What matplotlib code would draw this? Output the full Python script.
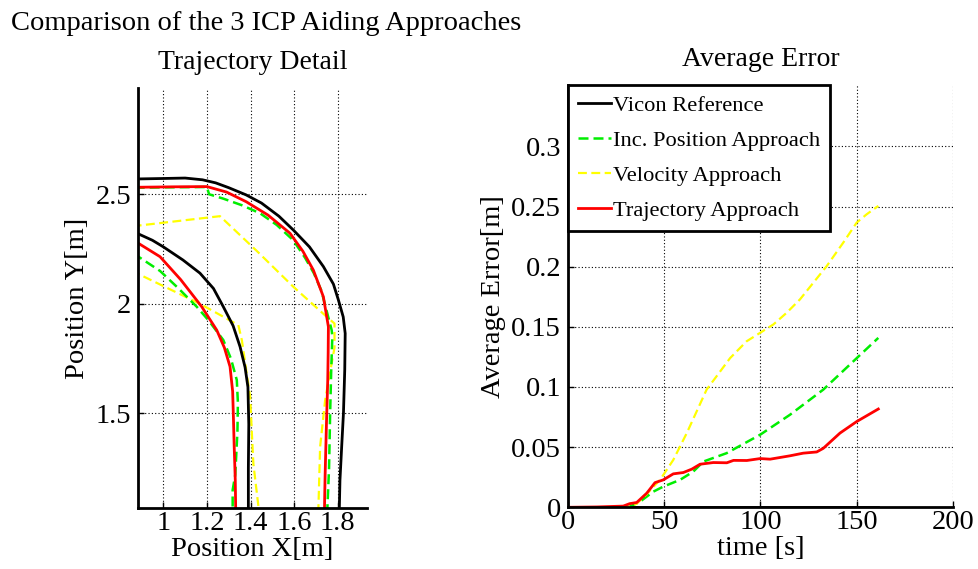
import matplotlib
matplotlib.use("Agg")
import matplotlib.pyplot as plt

plt.rcParams['font.family'] = ['Liberation Serif', 'DejaVu Serif']
plt.rcParams['mathtext.fontset'] = 'stix'

# --- trajectory detail (x, y in metres) ---
vicon_out_x = [0.80, 0.886, 1.00, 1.10, 1.18, 1.24, 1.30, 1.38, 1.45, 1.53, 1.596, 1.67, 1.734, 1.78, 1.803, 1.825, 1.834, 1.832, 1.826, 1.818, 1.81, 1.807]
vicon_out_y = [2.57, 2.57, 2.572, 2.574, 2.566, 2.552, 2.53, 2.497, 2.46, 2.40, 2.337, 2.26, 2.17, 2.09, 2.017, 1.94, 1.865, 1.70, 1.50, 1.35, 1.195, 1.06]
vicon_in_x = [0.80, 0.886, 0.95, 1.00, 1.09, 1.168, 1.23, 1.275, 1.32, 1.352, 1.375, 1.388, 1.392, 1.39, 1.39]
vicon_in_y = [2.36, 2.319, 2.29, 2.26, 2.20, 2.14, 2.07, 1.987, 1.90, 1.804, 1.71, 1.62, 1.45, 1.25, 1.06]

traj_out_x = [0.80, 0.886, 1.05, 1.20, 1.29, 1.38, 1.48, 1.581, 1.64, 1.688, 1.734, 1.757, 1.756, 1.754, 1.748, 1.742, 1.74, 1.739]
traj_out_y = [2.532, 2.532, 2.534, 2.535, 2.51, 2.466, 2.405, 2.322, 2.24, 2.154, 2.032, 1.895, 1.78, 1.652, 1.45, 1.22, 1.12, 1.06]
traj_in_x = [0.80, 0.886, 0.985, 1.08, 1.176, 1.245, 1.28, 1.306, 1.318, 1.321, 1.325, 1.33, 1.332]
traj_in_y = [2.32, 2.276, 2.215, 2.11, 1.987, 1.88, 1.80, 1.713, 1.60, 1.50, 1.35, 1.195, 1.06]

incpos_out_x = [0.80, 0.886, 1.05, 1.20, 1.21, 1.275, 1.36, 1.444, 1.52, 1.596, 1.65, 1.69, 1.725, 1.73, 1.772, 1.775, 1.77, 1.765, 1.762, 1.76, 1.752]
incpos_out_y = [2.53, 2.53, 2.532, 2.533, 2.50, 2.48, 2.45, 2.413, 2.36, 2.29, 2.21, 2.14, 2.06, 2.04, 1.88, 1.85, 1.70, 1.50, 1.35, 1.25, 1.06]
incpos_in_x = [0.80, 0.886, 0.985, 1.07, 1.153, 1.206, 1.275, 1.31, 1.337, 1.342, 1.34, 1.33, 1.318, 1.318]
incpos_in_y = [2.26, 2.215, 2.15, 2.07, 1.987, 1.926, 1.835, 1.75, 1.652, 1.55, 1.42, 1.22, 1.15, 1.06]

vel_out_x = [0.80, 0.886, 1.26, 1.43, 1.596, 1.75, 1.785, 1.785, 1.765, 1.742, 1.719, 1.711]
vel_out_y = [2.34, 2.357, 2.40, 2.24, 2.078, 1.94, 1.91, 1.80, 1.69, 1.56, 1.347, 1.06]
vel_in_x = [0.80, 0.886, 1.168, 1.344, 1.36, 1.398, 1.413, 1.438]
vel_in_y = [2.18, 2.136, 2.0, 1.903, 1.835, 1.576, 1.27, 1.06]

# --- average error over time ---
t_ref = [0, 161]
err_ref = [0, 0]
t_inc = [0, 20, 30, 32, 37.4, 44.3, 49.5, 58.2, 65.1, 70.3, 82.4, 99.8, 115.3, 132.6, 150, 161.2]
err_inc = [0, 0, 0, 0.0005, 0.0047, 0.013, 0.0172, 0.0228, 0.0297, 0.038, 0.045, 0.0603, 0.0769, 0.0978, 0.124, 0.1408]
t_vel = [0, 20, 32, 35.7, 40.9, 47.8, 54.7, 61.7, 72, 84.2, 92.8, 99.8, 106.7, 113.6, 120.5, 134.4, 143, 150, 155.2, 161.2]
err_vel = [0, 0, 0.0005, 0.003, 0.011, 0.0228, 0.0394, 0.0617, 0.0978, 0.124, 0.138, 0.145, 0.152, 0.1617, 0.1728, 0.2005, 0.22, 0.2367, 0.2436, 0.2505]
t_traj = [0, 15, 28.7, 32, 35.7, 40.9, 45.2, 49.5, 54.7, 59.9, 64.3, 68.6, 75.5, 82.5, 86, 92.9, 99.8, 105, 115.3, 122.2, 129.2, 132.6, 141.3, 150, 161.2]
err_traj = [0, 0.0003, 0.001, 0.003, 0.004, 0.0117, 0.0205, 0.0228, 0.0278, 0.0289, 0.0317, 0.0358, 0.0372, 0.037, 0.039, 0.0389, 0.0405, 0.040, 0.0428, 0.045, 0.046, 0.049, 0.0617, 0.0713, 0.0817]

labels = ['Vicon Reference', 'Inc. Position Approach', 'Velocity Approach', 'Trajectory Approach']

W, H = 979, 569
fig = plt.figure(figsize=(W / 100, H / 100), dpi=100)

green = '#00ee00'
yellow = '#ffff00'
red = '#ff0000'
dash = (4, 2)


def style(ax):
    for s in ('top', 'right'):
        ax.spines[s].set_visible(False)
    for s in ('left', 'bottom'):
        ax.spines[s].set_linewidth(2)
    ax.tick_params(direction='in', length=4, width=1, labelsize=20.5)
    ax.tick_params(axis='x', pad=2)
    ax.tick_params(axis='y', pad=5)
    ax.grid(True, color='black', linestyle=(0, (1, 2)), linewidth=0.8)
    ax.set_axisbelow(True)


ax1 = fig.add_axes([138 / W, (H - 508) / H, (367 - 138) / W, (508 - 88) / H])
ax1.plot(vel_out_x, vel_out_y, color=yellow, lw=1.6, dashes=dash)
ax1.plot(vel_in_x, vel_in_y, color=yellow, lw=1.6, dashes=dash)
ax1.plot(incpos_out_x, incpos_out_y, color=green, lw=1.8, dashes=dash)
ax1.plot(incpos_in_x, incpos_in_y, color=green, lw=1.8, dashes=dash)
ax1.plot(vicon_out_x, vicon_out_y, color='black', lw=2)
ax1.plot(vicon_in_x, vicon_in_y, color='black', lw=2)
ax1.plot(traj_out_x, traj_out_y, color=red, lw=2)
ax1.plot(traj_in_x, traj_in_y, color=red, lw=2)
ax1.set_xlim(0.884, 1.934)
ax1.set_ylim(1.068, 2.985)
ax1.set_xticks([1, 1.2, 1.4, 1.6, 1.8])
ax1.set_xticklabels(['1', '1.2', '1.4', '1.6', '1.8'])
ax1.set_yticks([1.5, 2, 2.5])
ax1.set_yticklabels(['1.5', '2', '2.5'])
style(ax1)
ax1.set_xlabel('Position X[m]', fontsize=20.5, labelpad=1)
ax1.set_ylabel('Position Y[m]', fontsize=20.5, labelpad=4)
ax1.set_title('Trajectory Detail', fontsize=20, pad=14)

ax2 = fig.add_axes([568 / W, (H - 507.3) / H, (953 - 568) / W, (507.3 - 85) / H])
l0, = ax2.plot(t_ref, err_ref, color='black', lw=2)
l1, = ax2.plot(t_inc, err_inc, color=green, lw=1.8, dashes=dash)
l2, = ax2.plot(t_vel, err_vel, color=yellow, lw=1.6, dashes=dash)
l3, = ax2.plot(t_traj, err_traj, color=red, lw=2)
ax2.set_xlim(0, 200)
ax2.set_ylim(0, 0.351)
ax2.set_xticks([0, 50, 100, 150, 200])
ax2.set_yticks([0, 0.05, 0.1, 0.15, 0.2, 0.25, 0.3])
ax2.set_yticklabels(['0', '0.05', '0.1', '0.15', '0.2', '0.25', '0.3'])
style(ax2)
ax2.set_xlabel('time [s]', fontsize=20.5, labelpad=1)
ax2.set_ylabel('Average Error[m]', fontsize=20.5, labelpad=4)
ax2.set_title('Average Error', fontsize=20, pad=14)

leg = ax2.legend([l0, l1, l2, l3], labels, loc='upper left', bbox_to_anchor=(0, 1),
                 borderaxespad=0, fontsize=16.2, handlelength=1.45, handletextpad=0.1,
                 labelspacing=0.64, borderpad=0.45, fancybox=False, framealpha=1,
                 edgecolor='black')
leg.get_frame().set_linewidth(2)

fig.text(11 / W, 1 - 24 / H, 'Comparison of the 3 ICP Aiding Approaches',
         fontsize=20.5, ha='left', va='center')

fig.savefig('out.png', dpi=100)
